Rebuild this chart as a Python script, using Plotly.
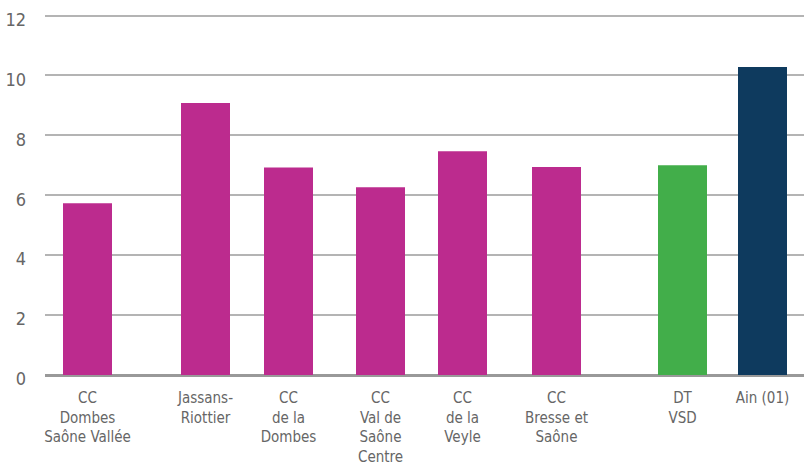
import plotly.graph_objects as go

categories = ["CC<br>Dombes<br>Saône Vallée", "Jassans-<br>Riottier", "CC<br>de la<br>Dombes",
              "CC<br>Val de<br>Saône<br>Centre", "CC<br>de la<br>Veyle", "CC<br>Bresse et<br>Saône",
              "DT<br>VSD", "Ain (01)"]
values = [5.73, 9.08, 6.93, 6.27, 7.47, 6.94, 7.0, 10.28]
colors = ["#BC2B8E"] * 6 + ["#42AE4A", "#0E3A5E"]
# slot positions of the categories along the x axis (uneven spacing as in the original)
slots = [4.25, 16.05, 24.35, 33.55, 41.75, 51.15, 63.75, 71.75]
y_ticks = [0, 2, 4, 6, 8, 10, 12]

fig = go.Figure()
fig.add_trace(go.Bar(x=slots, y=values, marker=dict(color=colors, line=dict(width=0)),
                     width=4.9, hoverinfo="y"))

font_family = "DejaVu Sans Condensed, Roboto, sans-serif"
fig.update_layout(
    width=804, height=464,
    margin=dict(l=45, r=0, t=13.5, b=89, autoexpand=False),
    paper_bgcolor="white", plot_bgcolor="white",
    showlegend=False,
    font=dict(family=font_family, size=15, color="#666666"),
    xaxis=dict(range=[0, 75.9], tickmode="array", tickvals=slots, ticktext=categories,
               showgrid=False, zeroline=False, showline=False, ticks="",
               automargin=False, ticklabelstandoff=12,
               tickfont=dict(size=15, color="#666666")),
    yaxis=dict(range=[0, 12.05], tickmode="array", tickvals=y_ticks,
               showgrid=True, gridcolor="#b4b4b4", gridwidth=1.5,
               zeroline=True, zerolinecolor="#999999", zerolinewidth=3,
               showline=False, ticks="", automargin=False,
               ticklabelstandoff=18, ticklabelshift=4,
               tickfont=dict(size=18, color="#666666")),
)
fig.write_html("out.html", config={"displayModeBar": False},
               post_script="document.body.style.margin='0';")
